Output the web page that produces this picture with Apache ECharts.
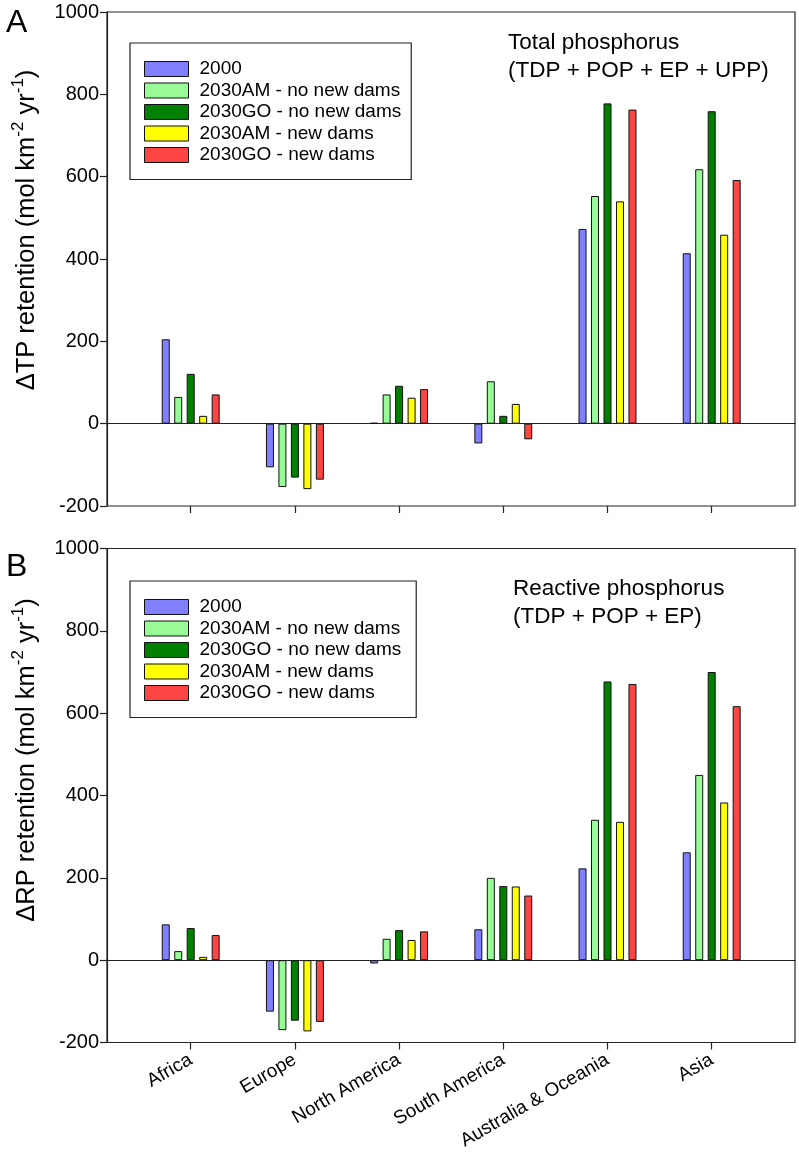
<!DOCTYPE html>
<html>
<head>
<meta charset="utf-8">
<script src="https://cdn.jsdelivr.net/npm/echarts@6/dist/echarts.min.js"></script>
<style>
  html, body { margin: 0; padding: 0; background: #fff; }
  #chart { width: 799px; height: 1156px; }
</style>
</head>
<body>
<div id="chart"></div>
<script>
// ---------- data ----------
const categories = ['Africa', 'Europe', 'North America', 'South America', 'Australia & Oceania', 'Asia'];
const seriesNames = ['2000', '2030AM - no new dams', '2030GO - no new dams', '2030AM - new dams', '2030GO - new dams'];
const seriesColors = ['#8080FF', '#98FB98', '#007F00', '#FFFF00', '#FF4444'];

// Panel A: total phosphorus retention change
const tp2000  = [205, -106, 2, -48, 473, 414];
const tpAMno  = [65, -154, 71, 103, 553, 618];
const tpGOno  = [121, -131, 92, 19, 778, 759];
const tpAMnew = [19, -159, 63, 48, 540, 459];
const tpGOnew = [71, -136, 84, -38, 763, 592];

// Panel B: reactive phosphorus retention change
const rp2000  = [87, -125, -8, 75, 223, 262];
const rpAMno  = [22, -170, 52, 200, 341, 450];
const rpGOno  = [78, -147, 73, 180, 677, 700];
const rpAMnew = [8, -173, 49, 179, 336, 383];
const rpGOnew = [61, -150, 70, 157, 671, 617];

const yMin = -200, yMax = 1000, yInterval = 200;

// ---------- layout ----------
const FONT = '"Liberation Sans", Arial, sans-serif';
const AXIS_COLOR = '#222';
const panels = [
  { top: 12, data: [tp2000, tpAMno, tpGOno, tpAMnew, tpGOnew], yName: 'ΔTP',
    title: 'Total phosphorus\n(TDP + POP + EP + UPP)', titleX: 508, titleY: 29,
    label: 'A', labelTop: 7, nameY: 230, legendTop: 43, legendRight: 10, showCats: false },
  { top: 548.5, data: [rp2000, rpAMno, rpGOno, rpAMnew, rpGOnew], yName: 'ΔRP',
    title: 'Reactive phosphorus\n(TDP + POP + EP)', titleX: 513, titleY: 575,
    label: 'B', labelTop: 551, nameY: 760, legendTop: 581, legendRight: 15, showCats: true }
];
const plotLeft = 107, plotWidth = 688, plotHeight = 494;
const catStep = 104.2;
const innerLeft = 190.7 - catStep / 2;

const grid = [], xAxis = [], yAxis = [], series = [], legend = [], graphic = [];

panels.forEach((p, pi) => {
  const outer = pi * 2, inner = pi * 2 + 1;
  grid.push({ left: plotLeft, top: p.top, width: plotWidth, height: plotHeight,
              show: true, borderColor: AXIS_COLOR, borderWidth: 1.2, backgroundColor: 'transparent' });
  grid.push({ left: innerLeft, top: p.top, width: catStep * 6, height: plotHeight });

  // outer x: only the zero line
  xAxis.push({ type: 'value', gridIndex: outer, min: 0, max: 1,
    axisLine: { show: true, onZero: true, lineStyle: { color: AXIS_COLOR, width: 1.2 } },
    axisTick: { show: false }, axisLabel: { show: false }, splitLine: { show: false } });
  // inner x: categories
  xAxis.push({ type: 'category', gridIndex: inner, data: categories, boundaryGap: true,
    axisLine: { show: false, onZero: false },
    axisTick: { show: true, alignWithLabel: true, interval: 0, length: 7,
                lineStyle: { color: AXIS_COLOR, width: 1.2 } },
    axisLabel: { show: p.showCats, interval: 0, rotate: 30, margin: 16,
                 fontSize: 19, color: '#000', fontFamily: FONT },
    splitLine: { show: false } });

  yAxis.push({ type: 'value', gridIndex: outer, min: yMin, max: yMax, interval: yInterval,
    axisLine: { show: true, lineStyle: { color: AXIS_COLOR, width: 1.2 } },
    axisTick: { show: true, length: 7, lineStyle: { color: AXIS_COLOR, width: 1.2 } },
    axisLabel: { fontSize: 20, color: '#000', fontFamily: FONT, margin: 8,
                 formatter: v => String(v) },
    splitLine: { show: false } });
  yAxis.push({ type: 'value', gridIndex: inner, min: yMin, max: yMax, interval: yInterval, show: false,
    splitLine: { show: false } });

  p.data.forEach((vals, si) => {
    series.push({ type: 'bar', name: seriesNames[si], xAxisIndex: inner, yAxisIndex: inner,
      data: vals, barWidth: 8, barGap: '56%', animation: false,
      itemStyle: { color: seriesColors[si], borderColor: '#111', borderWidth: 1 } });
  });

  legend.push({ data: seriesNames, orient: 'vertical', left: 130, top: p.legendTop,
    padding: [16.5, p.legendRight, 15, 14], itemGap: 2.5, itemWidth: 44, itemHeight: 15,
    borderColor: '#222', borderWidth: 1.2, selectedMode: false, icon: 'rect',
    itemStyle: { borderColor: '#111', borderWidth: 1 },
    textStyle: { fontSize: 19, color: '#000', fontFamily: FONT, padding: [0, 0, 0, 6] } });

  graphic.push({ type: 'text', left: p.titleX, top: p.titleY,
    style: { text: p.title, lineHeight: 28, fill: '#000', font: '22.5px ' + FONT } });
  graphic.push({ type: 'text', left: 6, top: p.labelTop,
    style: { text: p.label, fill: '#000', font: '32px ' + FONT } });
  // rotated y-axis title with superscripts
  graphic.push({ type: 'text', x: 25, y: p.nameY, rotation: Math.PI / 2,
    style: { text: '{a|' + p.yName + ' retention (mol km}{s|-2}{a| yr}{s|-1}{a|)}',
      align: 'center', verticalAlign: 'middle',
      rich: { a: { fontSize: 25.5, fontFamily: FONT, fill: '#000', lineHeight: 30, verticalAlign: 'bottom' },
              s: { fontSize: 17, fontFamily: FONT, fill: '#000', lineHeight: 17, verticalAlign: 'top' } } } });
});

const chart = echarts.init(document.getElementById('chart'), null, { renderer: 'canvas' });
chart.setOption({ animation: false, backgroundColor: '#fff', grid, xAxis, yAxis, series, legend, graphic });
</script>
</body>
</html>
